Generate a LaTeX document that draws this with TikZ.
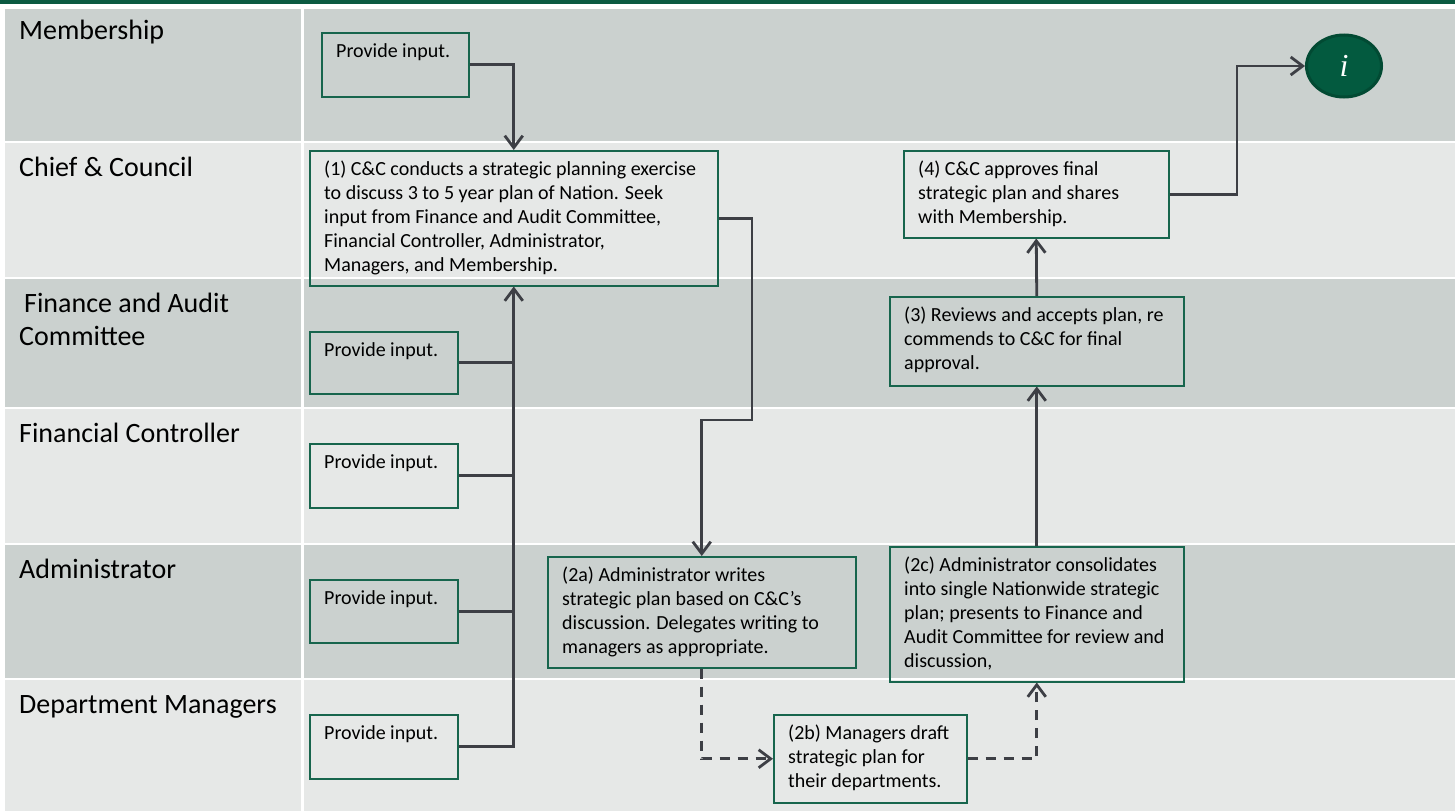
\documentclass[tikz,border=0pt]{standalone}
\usepackage{fontspec}
\setmainfont{Carlito}
\newfontfamily\infofont{Liberation Serif}
\usetikzlibrary{arrows.meta,shapes.geometric,calc}

\definecolor{laneDark}{HTML}{CBD1CF}
\definecolor{laneLight}{HTML}{E6E8E7}
\definecolor{topBar}{HTML}{0B5A41}
\definecolor{boxEdge}{HTML}{17654D}
\definecolor{wire}{HTML}{3D3F45}
\definecolor{infoFill}{HTML}{035A3F}
\definecolor{infoEdge}{HTML}{024A33}

% one swimlane band: top, bottom, colour
\newcommand\laneband[3]{%
  \fill[#3] (5,#1) rectangle (301,#2);
  \fill[#3] (304,#1) rectangle (1455,#2);
}
% a step box: name, left, top, right, bottom, text (top-left aligned)
\newcommand\stepnode[6]{%
  \node[stepbox, anchor=north west, minimum width={(#4)-(#2)}, minimum height={(#5)-(#3)}] (#1) at (#2,#3) {};
  \node[boxtext] (#1-text) at ($(#1.north west)+(15,7)$) {\rule{0pt}{18pt}#6};
}

\begin{document}
\begin{tikzpicture}[x=1pt,y=-1pt,
  lanetitle/.style={anchor=north west, inner sep=0pt, align=left, font=\fontsize{28}{33}\selectfont},
  stepbox/.style={draw=boxEdge, line width=1.5pt, inner sep=0pt},
  boxtext/.style={anchor=north west, inner sep=0pt, align=left, font=\fontsize{20}{24}\selectfont},
  link/.style={draw=wire, line width=2.8pt},
  flow/.style={link, -{Straight Barb[length=12pt,width=18pt]}},
  dashflow/.style={flow, dash pattern=on 10pt off 8pt},
]
\useasboundingbox (0,0) rectangle (1455,811);
\fill[white] (0,0) rectangle (1455,811);
\fill[topBar] (0,0) rectangle (1455,3.5);

% swimlanes
\laneband{9}{141}{laneDark}
\laneband{143}{277}{laneLight}
\laneband{279}{407}{laneDark}
\laneband{409}{543}{laneLight}
\laneband{545}{678}{laneDark}
\laneband{680}{811}{laneLight}

% lane titles
\node[lanetitle] (lMem) at (19,15) {\rule{0pt}{24pt}Membership};
\node[lanetitle] (lCC) at (19,152) {\rule{0pt}{24pt}Chief \& Council};
\node[lanetitle] (lFAC) at (19,288) {\rule{0pt}{24pt}\hspace{5pt}Finance and Audit\\Committee};
\node[lanetitle] (lFC) at (19,418) {\rule{0pt}{24pt}Financial Controller};
\node[lanetitle] (lAdm) at (19,554) {\rule{0pt}{24pt}Administrator};
\node[lanetitle] (lDM) at (19,689) {\rule{0pt}{24pt}Department Managers};

% step boxes
\stepnode{mem}{321}{32}{468}{96}{Provide input.}
\stepnode{c1}{309}{150}{717}{285}{(1) C\&C conducts a strategic planning exercise\\to discuss 3 to 5 year plan of Nation.  Seek\\input from Finance and Audit Committee,\\Financial Controller,  Administrator,\\Managers, and Membership.}
\stepnode{fac}{309}{331}{457}{393}{Provide input.}
\stepnode{fc}{309}{443}{457}{507}{Provide input.}
\stepnode{adm}{309}{579}{457}{642}{Provide input.}
\stepnode{dm}{309}{714}{457}{778}{Provide input.}
\stepnode{a2}{547}{556}{855}{667}{(2a)  Administrator  writes\\strategic plan based on C\&C’s\\discussion. Delegates writing to\\managers as appropriate.}
\stepnode{b2}{773}{714}{966}{802}{(2b) Managers draft\\strategic plan for\\their departments.}
\stepnode{c2}{889}{546}{1183}{681}{(2c) Administrator  consolidates\\into single  Nationwide  strategic\\plan; presents to Finance and\\Audit Committee  for review and\\discussion,}
\stepnode{s3}{889}{296}{1183}{385}{(3) Reviews and accepts plan, re\\commends to C\&C for final\\approval.}
\stepnode{s4}{903}{150}{1168}{237}{(4) C\&C approves final\\strategic plan and shares\\with  Membership.}

% information marker
\node[ellipse, fill=infoFill, draw=infoEdge, line width=3pt, minimum width=75pt, minimum height=62pt, inner sep=0pt, text=white]
  (info) at (1344,66) {\infofont\itshape\fontsize{32}{32}\selectfont i};

% inputs gathered into step (1)
\draw[flow] (mem.east) -| (c1.north);
\draw[link] (fac.east) -- (fac.east -| c1.south);
\draw[link] (fc.east) -- (fc.east -| c1.south);
\draw[link] (adm.east) -- (adm.east -| c1.south);
\draw[flow] (dm.east) -| (c1.south);

% main sequence
\coordinate (k1) at (752,420);
\draw[flow] (c1.east) -| (k1) -| (a2.north);
\draw[dashflow] (a2.south) |- (b2.west);
\draw[dashflow] (b2.east) -| (c2.south);
\draw[flow] (c2.north) -- (s3.south);
\draw[flow] (s3.north) -- (s4.south);
\coordinate (k2) at (1237,66);
\draw[flow] (s4.east) -| (k2) -- (info.west);
\end{tikzpicture}
\end{document}
